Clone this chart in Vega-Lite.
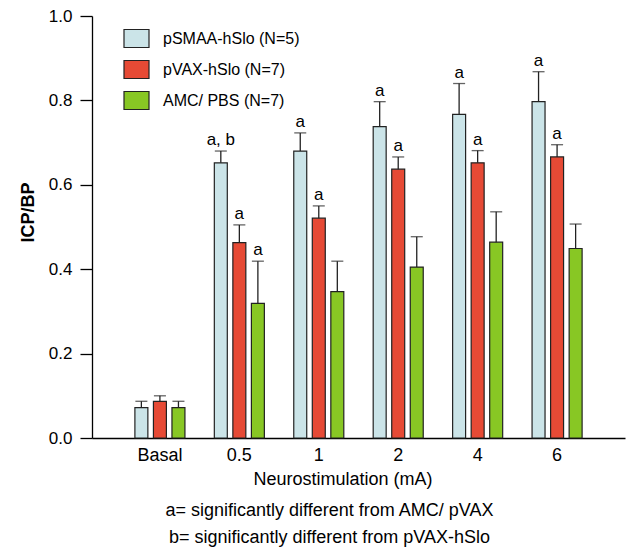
{
  "$schema": "https://vega.github.io/schema/vega-lite/v6.json",
  "width": 533,
  "height": 422,
  "autosize": {"type": "none"},
  "padding": {"left": 92, "top": 16, "right": 1, "bottom": 110},
  "background": "white",
  "config": {
    "font": "Liberation Sans",
    "view": {"stroke": null},
    "axis": {"domainColor": "black", "tickColor": "black", "labelColor": "black", "titleColor": "black", "grid": false, "domainWidth": 1.3, "tickWidth": 1.3}
  },
  "title": {
    "text": ["a= significantly different from AMC/ pVAX", "b= significantly different from pVAX-hSlo"],
    "orient": "bottom",
    "anchor": "middle",
    "frame": "group",
    "dx": -29,
    "offset": 14,
    "fontSize": 18,
    "fontWeight": "normal",
    "lineHeight": 27,
    "color": "black"
  },
  "data": {
    "values": [
      {"group": "Basal", "series": "pSMAA-hSlo (N=5)", "value": 0.072, "upper": 0.087, "label": ""},
      {"group": "Basal", "series": "pVAX-hSlo (N=7)", "value": 0.087, "upper": 0.100, "label": ""},
      {"group": "Basal", "series": "AMC/ PBS (N=7)", "value": 0.072, "upper": 0.087, "label": ""},
      {"group": "0.5", "series": "pSMAA-hSlo (N=5)", "value": 0.652, "upper": 0.680, "label": "a, b"},
      {"group": "0.5", "series": "pVAX-hSlo (N=7)", "value": 0.463, "upper": 0.505, "label": "a"},
      {"group": "0.5", "series": "AMC/ PBS (N=7)", "value": 0.319, "upper": 0.419, "label": "a"},
      {"group": "1", "series": "pSMAA-hSlo (N=5)", "value": 0.680, "upper": 0.723, "label": "a"},
      {"group": "1", "series": "pVAX-hSlo (N=7)", "value": 0.521, "upper": 0.550, "label": "a"},
      {"group": "1", "series": "AMC/ PBS (N=7)", "value": 0.347, "upper": 0.419, "label": ""},
      {"group": "2", "series": "pSMAA-hSlo (N=5)", "value": 0.738, "upper": 0.797, "label": "a"},
      {"group": "2", "series": "pVAX-hSlo (N=7)", "value": 0.637, "upper": 0.666, "label": "a"},
      {"group": "2", "series": "AMC/ PBS (N=7)", "value": 0.405, "upper": 0.477, "label": ""},
      {"group": "4", "series": "pSMAA-hSlo (N=5)", "value": 0.767, "upper": 0.840, "label": "a"},
      {"group": "4", "series": "pVAX-hSlo (N=7)", "value": 0.652, "upper": 0.681, "label": "a"},
      {"group": "4", "series": "AMC/ PBS (N=7)", "value": 0.464, "upper": 0.536, "label": ""},
      {"group": "6", "series": "pSMAA-hSlo (N=5)", "value": 0.797, "upper": 0.868, "label": "a"},
      {"group": "6", "series": "pVAX-hSlo (N=7)", "value": 0.666, "upper": 0.695, "label": "a"},
      {"group": "6", "series": "AMC/ PBS (N=7)", "value": 0.449, "upper": 0.507, "label": ""}
    ]
  },
  "encoding": {
    "x": {
      "field": "group",
      "type": "nominal",
      "sort": ["Basal", "0.5", "1", "2", "4", "6"],
      "scale": {"paddingInner": 0.37, "paddingOuter": 0.54},
      "axis": {
        "ticks": false,
        "labelAngle": 0,
        "labelFontSize": 18,
        "labelPadding": 8,
        "title": "Neurostimulation (mA)",
        "titleFontSize": 18,
        "titleFontWeight": "normal",
        "titlePadding": 6,
        "titleX": 250.5
      }
    },
    "xOffset": {
      "field": "series",
      "type": "nominal",
      "sort": ["pSMAA-hSlo (N=5)", "pVAX-hSlo (N=7)", "AMC/ PBS (N=7)"],
      "scale": {"paddingInner": 0.3}
    }
  },
  "layer": [
    {
      "mark": {"type": "bar", "stroke": "#222222", "strokeWidth": 1.2, "opacity": 1},
      "encoding": {
        "y": {
          "field": "value",
          "type": "quantitative",
          "scale": {"domain": [0, 1]},
          "axis": {
            "values": [0, 0.2, 0.4, 0.6, 0.8, 1.0],
            "format": ".1f",
            "tickSize": 12,
            "labelPadding": 8,
            "labelFontSize": 17,
            "title": "ICP/BP",
            "titleFontSize": 18,
            "titleFontWeight": "bold",
            "titlePadding": 11,
            "titleY": 196,
            "titleAlign": "center"
          }
        },
        "color": {
          "field": "series",
          "type": "nominal",
          "sort": ["pSMAA-hSlo (N=5)", "pVAX-hSlo (N=7)", "AMC/ PBS (N=7)"],
          "scale": {
            "domain": ["pSMAA-hSlo (N=5)", "pVAX-hSlo (N=7)", "AMC/ PBS (N=7)"],
            "range": ["#cbe4e8", "#e64a35", "#88c724"]
          },
          "legend": {
            "orient": "none",
            "legendX": 31,
            "legendY": 9,
            "title": null,
            "padding": 0,
            "symbolType": "M-1,-0.72H1V0.72H-1Z",
            "symbolSize": 625,
            "symbolStrokeColor": "#222222",
            "symbolStrokeWidth": 1.2,
            "symbolOpacity": 1,
            "labelFontSize": 16,
            "labelColor": "black",
            "labelOffset": 13,
            "rowPadding": 6
          }
        }
      }
    },
    {
      "mark": {"type": "rule", "color": "#222222", "strokeWidth": 1.3},
      "encoding": {
        "y": {"field": "value", "type": "quantitative"},
        "y2": {"field": "upper"}
      }
    },
    {
      "mark": {"type": "tick", "color": "#222222", "thickness": 1.3, "size": 12, "orient": "horizontal"},
      "encoding": {
        "y": {"field": "upper", "type": "quantitative"}
      }
    },
    {
      "mark": {"type": "text", "baseline": "alphabetic", "dy": -6, "fontSize": 17, "color": "black"},
      "encoding": {
        "y": {"field": "upper", "type": "quantitative"},
        "text": {"field": "label"}
      }
    }
  ]
}
